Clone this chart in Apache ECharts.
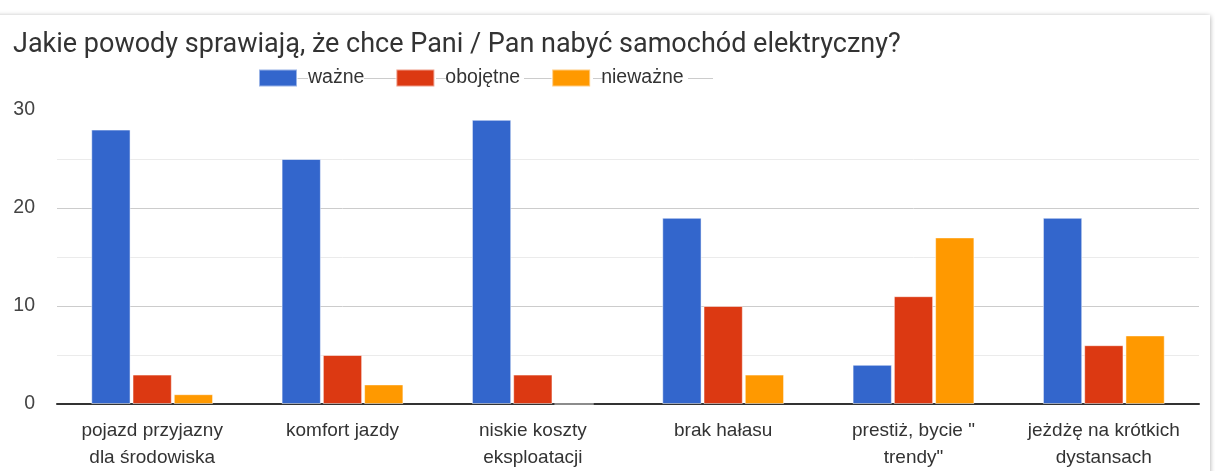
<!DOCTYPE html>
<html>
<head>
<meta charset="utf-8">
<script src="https://cdn.jsdelivr.net/npm/echarts@6/dist/echarts.min.js"></script>
<style>
  html, body { margin: 0; padding: 0; background: #fff; overflow: hidden; }
  #card {
    position: absolute; left: -20px; top: 15px; width: 1230px; height: 520px;
    background: #fff; box-shadow: 0 1px 5px rgba(0, 0, 0, 0.35);
  }
  #chart { position: absolute; left: 0; top: 0; width: 1215px; height: 471px; }
</style>
</head>
<body>
<div id="card"></div>
<div id="chart"></div>
<script>
// dane wykresu
const categories = [
  'pojazd przyjazny\ndla środowiska',
  'komfort jazdy',
  'niskie koszty\neksploatacji',
  'brak hałasu',
  'prestiż, bycie "\ntrendy"',
  'jeżdżę na krótkich\ndystansach'
]
const seriesNames = ['ważne', 'obojętne', 'nieważne']
const wazne = [28, 25, 29, 19, 4, 19]
const obojetne = [3, 5, 3, 10, 11, 6]
const niewazne = [1, 2, 0, 3, 17, 7]
const yTicks = [0, 10, 20, 30]

const colors = ['#3366cc', '#dc3912', '#ff9900']

// szare kreski w legendzie (styl Google)
const legendLines = [[297, 308], [364, 397], [436, 446], [524, 554], [593, 603], [688, 713]]

const chart = echarts.init(document.getElementById('chart'))

const option = {
  color: colors,
  animation: false,
  title: {
    text: 'Jakie powody sprawiają, że chce Pani / Pan nabyć samochód elektryczny?',
    left: 8,
    top: 27,
    textStyle: {
      fontFamily: 'Roboto',
      fontSize: 27,
      fontWeight: 'normal',
      color: '#333'
    }
  },
  legend: {
    data: seriesNames,
    left: 253,
    top: 63,
    icon: 'rect',
    itemWidth: 38,
    itemHeight: 17,
    itemGap: 31,
    textStyle: {
      fontFamily: 'Liberation Sans',
      fontSize: 19.5,
      color: '#333',
      padding: [0, 0, 0, 6]
    }
  },
  graphic: legendLines.map(function (l) {
    return {
      type: 'line',
      silent: true,
      shape: { x1: l[0], y1: 78.5, x2: l[1], y2: 78.5 },
      style: { stroke: '#cccccc', lineWidth: 1 }
    }
  }),
  grid: {
    left: 57,
    right: 16,
    top: 110,
    bottom: 67
  },
  xAxis: {
    type: 'category',
    data: categories,
    axisTick: { show: false },
    axisLine: {
      show: true,
      lineStyle: { color: '#333', width: 2 }
    },
    axisLabel: {
      interval: 0,
      margin: 13,
      lineHeight: 27,
      fontFamily: 'Liberation Sans',
      fontSize: 19,
      color: '#333'
    }
  },
  yAxis: {
    type: 'value',
    min: 0,
    max: 30,
    interval: 5,
    axisLine: { show: false },
    axisTick: { show: false },
    axisLabel: {
      margin: 22,
      fontFamily: 'Liberation Sans',
      fontSize: 19.5,
      color: '#444',
      formatter: function (v) {
        return yTicks.indexOf(v) >= 0 ? String(v) : ''
      }
    },
    splitLine: {
      show: true,
      lineStyle: {
        color: ['#cccccc', '#ebebeb', '#cccccc', '#ebebeb', '#cccccc', '#ebebeb', 'rgba(0,0,0,0)'],
        width: 1
      }
    }
  },
  series: [
    { name: seriesNames[0], type: 'bar', data: wazne },
    { name: seriesNames[1], type: 'bar', data: obojetne },
    { name: seriesNames[2], type: 'bar', data: niewazne }
  ].map(function (s) {
    s.barGap = '5%'
    s.barCategoryGap = '36%'
    s.itemStyle = { borderColor: 'rgba(255,255,255,0.5)', borderWidth: 1 }
    return s
  })
}

chart.setOption(option)
</script>
</body>
</html>
